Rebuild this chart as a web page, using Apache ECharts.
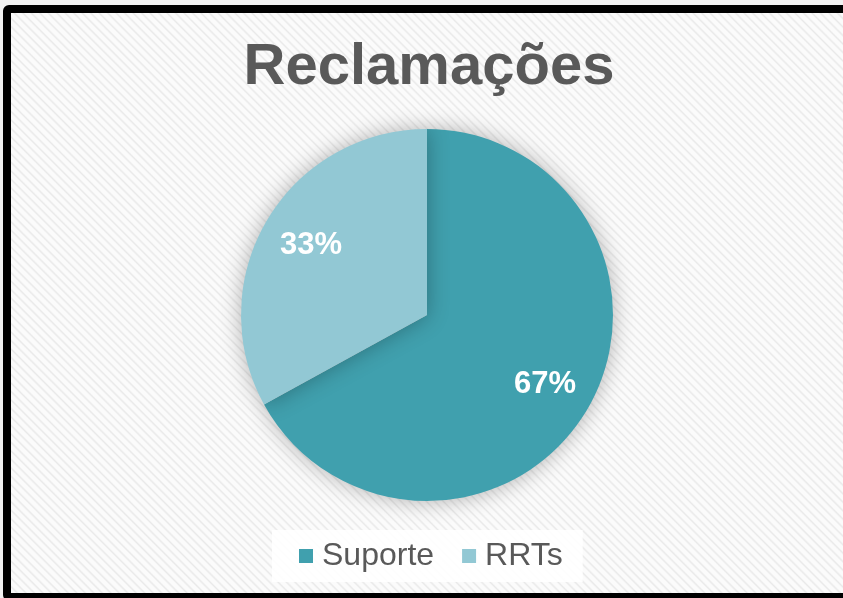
<!DOCTYPE html>
<html>
<head>
<meta charset="utf-8">
<script src="https://cdn.jsdelivr.net/npm/echarts@6/dist/echarts.min.js"></script>
<style>
    html, body { margin: 0; padding: 0; background: #f2f2f2; overflow: hidden; }
    #frame {
        position: absolute; left: 3px; top: 5px; width: 900px; height: 580px;
        border: 8px solid #000; border-radius: 6px;
        background: repeating-linear-gradient(45deg, #fbfbfb 0px, #fbfbfb 3px, #e9e9e9 4.5px, #fbfbfb 6px);
    }
    #main { position: absolute; left: 0; top: 0; width: 843px; height: 598px; }
</style>
</head>
<body>
<div id="frame"></div>
<div id="main"></div>
<script>
var categories = ['Suporte', 'RRTs'];
var values = [67, 33];
var colors = ['#40a0ae', '#92c8d4'];

(function () {
    var myChart = echarts.init(document.getElementById('main'));
    var data = categories.map(function (name, i) {
        return { name: name, value: values[i], itemStyle: { color: colors[i] } };
    });
    var font = '"Liberation Sans", Arial, sans-serif';
    var option = {
        backgroundColor: 'transparent',
        animation: false,
        title: {
            text: 'Reclamações',
            left: 424,
            top: 34,
            textAlign: 'center',
            textStyle: { fontSize: 58, fontWeight: 'bold', color: '#595959', fontFamily: font }
        },
        legend: {
            data: categories,
            left: 272,
            top: 530,
            backgroundColor: 'rgba(255,255,255,0.9)',
            padding: [10, 20, 10, 27],
            itemWidth: 14,
            itemHeight: 14,
            itemGap: 28,
            icon: 'rect',
            textStyle: { fontSize: 32, color: '#595959', fontFamily: font, padding: [0, 0, 0, 4] }
        },
        series: [{
            type: 'pie',
            center: [427, 315],
            radius: 186,
            startAngle: 90,
            clockwise: true,
            label: { show: false },
            labelLine: { show: false },
            itemStyle: { shadowBlur: 22, shadowColor: 'rgba(0,0,0,0.3)' },
            emphasis: { disabled: true },
            data: data
        }, {
            type: 'pie',
            center: [427, 315],
            radius: [80, 186],
            startAngle: 90,
            clockwise: true,
            silent: true,
            legendHoverLink: false,
            itemStyle: { color: 'rgba(0,0,0,0)' },
            label: {
                show: true,
                position: 'inside',
                formatter: function (p) { return Math.round(p.percent) + '%'; },
                fontSize: 31,
                fontWeight: 'bold',
                color: '#fff',
                fontFamily: font,
                padding: [9, 0, 0, 2]
            },
            labelLine: { show: false },
            emphasis: { disabled: true },
            data: categories.map(function (name, i) { return { name: name, value: values[i] }; })
        }]
    };
    myChart.setOption(option);
})();
</script>
</body>
</html>
